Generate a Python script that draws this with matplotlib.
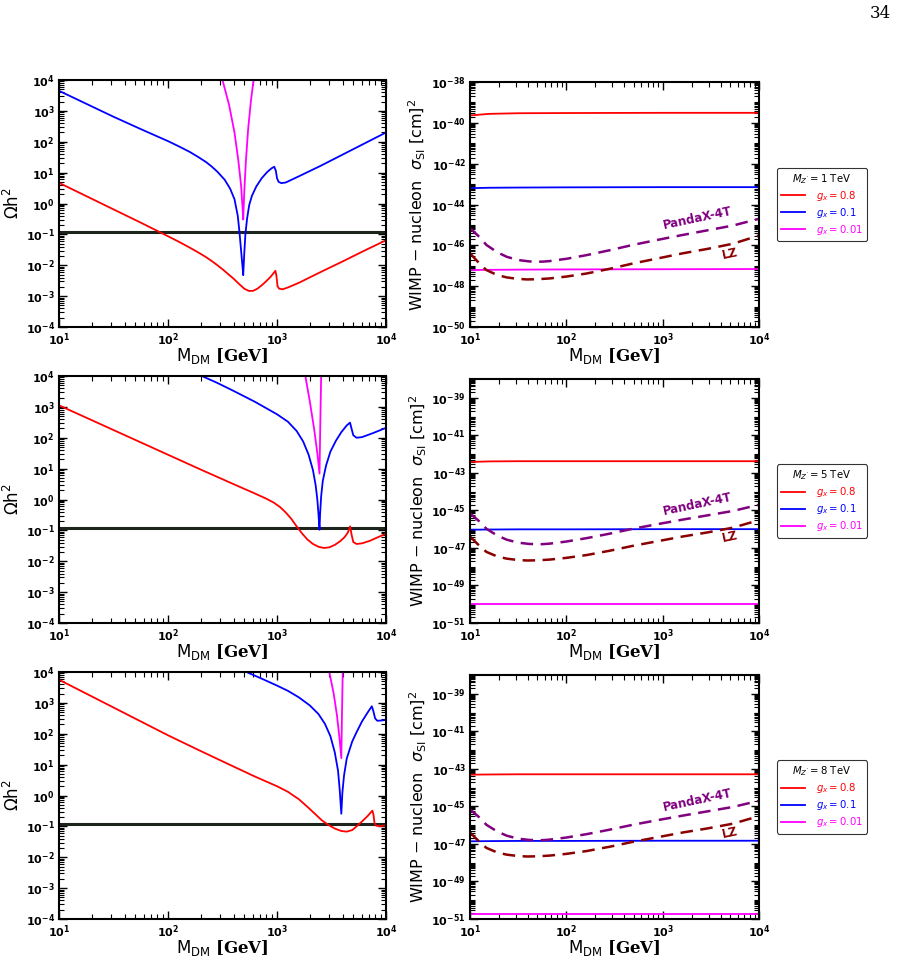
import numpy as np
import matplotlib
matplotlib.use("Agg")
import matplotlib.pyplot as plt
from matplotlib.ticker import LogLocator, FuncFormatter, NullFormatter

plt.rcParams['mathtext.fontset'] = 'custom'
plt.rcParams['mathtext.rm'] = 'DejaVu Sans'
plt.rcParams['mathtext.it'] = 'DejaVu Sans:italic'
plt.rcParams['mathtext.bf'] = 'DejaVu Sans:bold'
plt.rcParams['mathtext.tt'] = 'DejaVu Serif:bold'

# ---- relic density curves: log10(M_DM / GeV), log10(Omega h^2) ----
mzp = [1, 5, 8]

relic_red_x = [
    [1.0, 1.25, 1.5, 1.75, 2.0, 2.1, 2.2, 2.28, 2.35, 2.4, 2.45, 2.5, 2.55, 2.6, 2.65, 2.7, 2.74,
     2.78, 2.82, 2.86, 2.9, 2.94, 2.97, 2.985, 2.995, 3.005, 3.02, 3.05, 3.1, 3.2, 3.4, 3.6, 3.8, 4.0],
    [1.0, 1.5, 2.0, 2.3, 2.6, 2.8, 2.9, 2.97, 3.03, 3.08, 3.13, 3.18, 3.23, 3.28, 3.33, 3.38, 3.43,
     3.48, 3.53, 3.58, 3.62, 3.65, 3.67, 3.685, 3.7, 3.73, 3.78, 3.85, 3.92, 4.0],
    [1.0, 1.5, 2.0, 2.3, 2.6, 2.8, 3.0, 3.1, 3.2, 3.28, 3.35, 3.41, 3.47, 3.53, 3.59, 3.64, 3.69,
     3.73, 3.78, 3.83, 3.86, 3.875, 3.885, 3.895, 3.91, 3.95, 4.0],
]
relic_red_y = [
    [0.67, 0.24, -0.19, -0.62, -1.06, -1.24, -1.43, -1.59, -1.74, -1.86, -1.99, -2.13, -2.28, -2.43,
     -2.6, -2.76, -2.83, -2.83, -2.76, -2.65, -2.52, -2.38, -2.25, -2.18, -2.35, -2.68, -2.76,
     -2.78, -2.72, -2.57, -2.22, -1.88, -1.53, -1.19],
    [3.05, 2.25, 1.45, 0.97, 0.5, 0.19, 0.03, -0.1, -0.25, -0.42, -0.62, -0.87, -1.1, -1.3, -1.44,
     -1.53, -1.57, -1.55, -1.47, -1.35, -1.22, -1.07, -0.87, -1.15, -1.38, -1.44, -1.42, -1.34,
     -1.23, -1.11],
    [3.75, 2.85, 1.95, 1.44, 0.94, 0.61, 0.3, 0.12, -0.12, -0.37, -0.6, -0.8, -0.95, -1.07, -1.15,
     -1.17, -1.12, -1.0, -0.84, -0.67, -0.55, -0.49, -0.62, -0.9, -0.98, -0.99, -0.97],
]

relic_blue_x = [
    [1.0, 1.25, 1.5, 1.75, 2.0, 2.1, 2.2, 2.28, 2.35, 2.4, 2.45, 2.52, 2.57, 2.61, 2.64, 2.655, 2.67,
     2.685, 2.69, 2.7, 2.71, 2.725, 2.745, 2.77, 2.81, 2.86, 2.91, 2.95, 2.975, 2.99, 3.0, 3.015,
     3.04, 3.08, 3.2, 3.4, 3.6, 3.8, 4.0],
    [2.31, 2.45, 2.6, 2.8, 3.0, 3.1, 3.18, 3.24, 3.29, 3.33, 3.355, 3.37, 3.38, 3.39, 3.395, 3.405,
     3.42, 3.45, 3.49, 3.54, 3.59, 3.64, 3.67, 3.685, 3.7, 3.73, 3.78, 3.88, 4.0],
    [2.72, 2.85, 3.0, 3.1, 3.2, 3.3, 3.38, 3.44, 3.49, 3.53, 3.56, 3.575, 3.59, 3.6, 3.615, 3.64,
     3.69, 3.73, 3.78, 3.83, 3.87, 3.885, 3.9, 3.92, 3.96, 4.0],
]
relic_blue_y = [
    [3.65, 3.23, 2.81, 2.41, 2.02, 1.85, 1.67, 1.5, 1.34, 1.2, 1.04, 0.77, 0.48, 0.14, -0.4, -0.9,
     -1.5, -2.1, -2.32, -1.6, -1.0, -0.5, -0.05, 0.25, 0.55, 0.82, 1.02, 1.14, 1.19, 1.05, 0.82,
     0.7, 0.66, 0.68, 0.88, 1.22, 1.58, 1.94, 2.3],
    [4.0, 3.78, 3.52, 3.16, 2.76, 2.52, 2.22, 1.88, 1.45, 0.95, 0.45, 0.0, -0.45, -0.98, -0.5,
     0.1, 0.6, 1.1, 1.55, 1.9, 2.18, 2.4, 2.49, 2.28, 2.08, 2.0, 2.02, 2.15, 2.32],
    [4.0, 3.8, 3.56, 3.39, 3.18, 2.92, 2.64, 2.32, 1.92, 1.4, 0.8, 0.2, -0.59, 0.1, 0.65, 1.2,
     1.75, 2.05, 2.4, 2.68, 2.89, 2.72, 2.5, 2.42, 2.43, 2.45],
]

relic_mag_x = [
    [2.5, 2.56, 2.61, 2.645, 2.67, 2.685, 2.69, 2.7, 2.715, 2.735, 2.76, 2.785],
    [3.26, 3.3, 3.34, 3.37, 3.39, 3.397, 3.405],
    [3.48, 3.52, 3.55, 3.575, 3.59, 3.596, 3.603],
]
relic_mag_y = [
    [4.0, 3.2, 2.3, 1.4, 0.6, -0.2, -0.52, 0.4, 1.4, 2.4, 3.3, 4.0],
    [4.0, 3.2, 2.3, 1.5, 0.84, 2.4, 4.0],
    [4.0, 3.3, 2.6, 1.8, 1.21, 2.6, 4.0],
]

# ---- direct detection: log10 sigma_SI [cm^2] vs log10 M_DM ----
dd_x = [1.0, 1.2, 1.5, 2.0, 3.0, 4.0]
dd_red = [[-39.64, -39.56, -39.53, -39.52, -39.51, -39.51],
          [-42.42, -42.39, -42.38, -42.38, -42.38, -42.38],
          [-43.31, -43.3, -43.29, -43.29, -43.29, -43.29]]
dd_blue = [[-43.2, -43.18, -43.17, -43.16, -43.15, -43.15],
           [-46.03, -46.02, -46.01, -46.01, -46.0, -46.0],
           [-46.86, -46.85, -46.84, -46.84, -46.83, -46.83]]
dd_mag = [[-47.21, -47.2, -47.19, -47.18, -47.17, -47.16],
          [-49.97, -49.97, -49.97, -49.97, -49.97, -49.97],
          [-50.75, -50.75, -50.75, -50.75, -50.75, -50.75]]

# experimental limits
panda_x = [1.0, 1.1, 1.17, 1.28, 1.38, 1.5, 1.62, 1.75, 1.83, 2.0, 2.21, 2.45, 2.69, 2.95, 3.21, 3.47, 3.73, 4.0]
panda_y = [-45.16, -45.6, -45.98, -46.33, -46.56, -46.72, -46.79, -46.8, -46.77, -46.66, -46.48, -46.24,
           -45.98, -45.73, -45.49, -45.26, -45.03, -44.7]
lz_x = [1.0, 1.1, 1.17, 1.28, 1.38, 1.49, 1.59, 1.7, 1.83, 2.0, 2.21, 2.45, 2.69, 2.95, 3.21, 3.47, 3.73, 4.0]
lz_y = [-46.39, -46.9, -47.21, -47.45, -47.57, -47.64, -47.67, -47.66, -47.62, -47.53, -47.38, -47.15,
        -46.89, -46.64, -46.39, -46.17, -45.92, -45.52]

gx_labels = [r'$g_x = 0.8$', r'$g_x = 0.1$', r'$g_x = 0.01$']
colors = ['red', 'blue', 'magenta']
omega_obs = 0.12

fig = plt.figure(figsize=(9.07, 9.58), dpi=100)
W, H = 907.0, 958.0

left_box = [(59, 80, 386, 327), (59, 376, 386, 623), (59, 672, 386, 919)]
right_box = [(470, 82, 759, 327), (470, 379, 759, 623), (470, 675, 759, 919)]
right_lim = [(1e-50, 1e-38), (1e-51, 1e-38), (1e-51, 1e-38)]
right_major = [np.arange(-50, -37, 2), np.arange(-51, -38, 2), np.arange(-51, -38, 2)]


def box_axes(b):
    x0, y0, x1, y1 = b
    return fig.add_axes([x0 / W, 1 - y1 / H, (x1 - x0) / W, (y1 - y0) / H])


def bold_pow(v, pos):
    e = int(round(np.log10(v)))
    return r'$\mathbf{10^{%d}}$' % e


def style(ax):
    ax.set_xscale('log')
    ax.set_yscale('log')
    ax.tick_params(which='both', direction='in', top=True, right=True, labelsize=8, pad=3)
    ax.tick_params(which='major', length=6, width=1.0)
    ax.tick_params(which='minor', length=3.5, width=0.8)
    for s in ax.spines.values():
        s.set_linewidth(1.5)
    ax.set_xlim(10, 1e4)
    ax.xaxis.set_major_locator(LogLocator(base=10, numticks=10))
    ax.xaxis.set_minor_locator(LogLocator(base=10, subs=np.arange(2, 10), numticks=20))
    ax.xaxis.set_major_formatter(FuncFormatter(bold_pow))
    ax.xaxis.set_minor_formatter(NullFormatter())
    ax.set_xlabel(r'M$_{\rm DM}$ $\mathtt{[GeV]}$', fontsize=12, labelpad=-1)


for i in range(3):
    ax = box_axes(left_box[i])
    style(ax)
    ax.set_ylim(1e-4, 1e4)
    ax.yaxis.set_major_locator(LogLocator(base=10, numticks=12))
    ax.yaxis.set_minor_locator(LogLocator(base=10, subs=np.arange(2, 10), numticks=40))
    ax.yaxis.set_major_formatter(FuncFormatter(bold_pow))
    ax.yaxis.set_minor_formatter(NullFormatter())
    ax.axhspan(0.105, 0.12, color='#a0a8a0', lw=0)
    ax.axhline(omega_obs, color='#1c241c', lw=2.2)
    for xs, ys, c in [(relic_red_x[i], relic_red_y[i], 'red'),
                      (relic_blue_x[i], relic_blue_y[i], 'blue'),
                      (relic_mag_x[i], relic_mag_y[i], 'magenta')]:
        ax.plot(10 ** np.array(xs), 10 ** np.array(ys), color=c, lw=1.3)
    ax.set_ylabel(r'$\Omega$h$^2$', fontsize=12, labelpad=2)

    ax2 = box_axes(right_box[i])
    style(ax2)
    ax2.set_ylim(*right_lim[i])
    ax2.yaxis.set_major_locator(plt.FixedLocator(10.0 ** right_major[i]))
    minor = [m * 10.0 ** k for k in range(-52, -37) for m in range(1, 10)]
    minor = [v for v in minor if right_lim[i][0] <= v <= right_lim[i][1]]
    ax2.yaxis.set_minor_locator(plt.FixedLocator(minor))
    ax2.yaxis.set_major_formatter(FuncFormatter(bold_pow))
    ax2.yaxis.set_minor_formatter(NullFormatter())
    xs = 10 ** np.array(dd_x)
    lines = []
    for ys, c in [(dd_red[i], 'red'), (dd_blue[i], 'blue'), (dd_mag[i], 'magenta')]:
        l, = ax2.plot(xs, 10 ** np.array(ys), color=c, lw=1.3)
        lines.append(l)
    ax2.plot(10 ** np.array(panda_x), 10 ** np.array(panda_y), color='purple', lw=1.8, ls=(0, (5, 3)))
    ax2.plot(10 ** np.array(lz_x), 10 ** np.array(lz_y), color='darkred', lw=1.8, ls=(0, (5, 3)))
    ax2.text(10 ** 3.36, 10 ** -44.67, 'PandaX-4T', color='purple', fontsize=8.5,
             fontweight='bold', rotation=12, ha='center', va='center')
    ax2.text(10 ** 3.7, 10 ** -46.42, 'LZ', color='darkred', fontsize=8.5,
             fontweight='bold', rotation=12, ha='center', va='center')
    ax2.set_ylabel(r'WIMP $-$ nucleon  $\sigma_{\rm SI}$ [cm]$^2$', fontsize=11.5, labelpad=2)
    leg = ax2.legend(lines, gx_labels, title=r"$M_{Z^{\prime}} = %d$ TeV" % mzp[i],
                     loc='center left', bbox_to_anchor=(1.045, 0.5), fontsize=7.3,
                     title_fontsize=7.3, frameon=True, fancybox=True, edgecolor='black',
                     handlelength=2.4, borderpad=0.4, labelspacing=0.3, handletextpad=1.0)
    leg.get_frame().set_linewidth(0.8)
    for t, c in zip(leg.get_texts(), colors):
        t.set_color(c)

fig.text(880 / W, 1 - 13 / H, '34', family='DejaVu Serif', fontsize=12, ha='center', va='center')

fig.savefig('out.png', dpi=100)
